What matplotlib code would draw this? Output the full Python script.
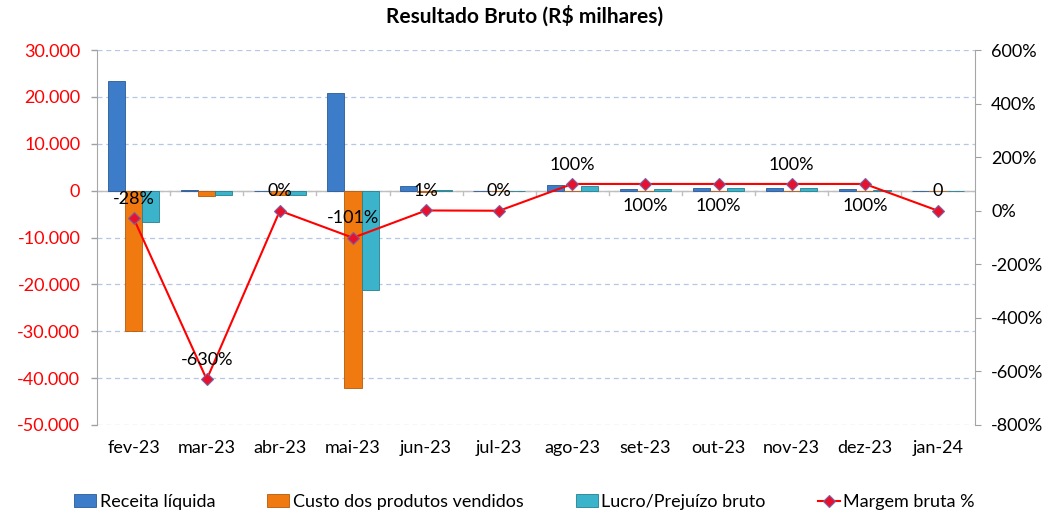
import matplotlib

matplotlib.use("Agg")
import matplotlib.pyplot as plt
import numpy as np
from matplotlib.ticker import FuncFormatter, MultipleLocator

plt.rcParams["font.family"] = ["Lato", "DejaVu Sans"]

meses = ["fev-23", "mar-23", "abr-23", "mai-23", "jun-23", "jul-23",
         "ago-23", "set-23", "out-23", "nov-23", "dez-23", "jan-24"]
receita = [23400, 150, 0, 20750, 1000, 0, 1200, 300, 500, 600, 300, 0]
custo = [-29900, -1100, -1000, -42100, -300, 0, 0, 0, 0, 0, 0, 0]
lucro = [-6600, -950, -1000, -21200, 100, 0, 1000, 300, 500, 600, 200, 0]
margem = [-28, -630, 0, -101, 1, 0, 100, 100, 100, 100, 100, 0]
margem_txt = ["-28%", "-630%", "0%", "-101%", "1%", "0%",
              "100%", "100%", "100%", "100%", "100%", "0"]
label_abaixo = [False, False, False, False, False, False,
                False, True, True, False, True, False]

x = np.arange(len(meses))
w = 0.235

fig = plt.figure(figsize=(10.49, 5.16), dpi=100)
ax = fig.add_axes([0.0925, 0.1764, 0.8365, 0.7266])

ax.bar(x - w, receita, w, color="#3D7CC9", edgecolor="#2A5A96", linewidth=0.6,
       label="Receita líquida", zorder=3)
ax.bar(x, custo, w, color="#F07A10", edgecolor="#B35A0A", linewidth=0.6,
       label="Custo dos produtos vendidos", zorder=3)
ax.bar(x + w, lucro, w, color="#3BB3CB", edgecolor="#24808F", linewidth=0.6,
       label="Lucro/Prejuízo bruto", zorder=3)

ax.set_xlim(-0.5, len(meses) - 0.5)
ax.set_ylim(-50000, 30000)
ax.yaxis.set_major_locator(MultipleLocator(10000))
ax.yaxis.set_major_formatter(FuncFormatter(lambda v, p: f"{v:,.0f}".replace(",", ".")))
ax.grid(True, axis="y", color="#B4C7E7", linestyle=(0, (4, 3)), linewidth=0.9, zorder=0)
ax.tick_params(axis="y", colors="red", labelsize=13, length=4, width=1, pad=8)
ax.tick_params(axis="y", color="#A0A0A0")
ax.set_xticks(x)
ax.set_xticklabels(meses, fontsize=13)
ax.tick_params(axis="x", length=0, pad=11)
# eixo x no zero com marcas entre categorias
ax.axhline(0, color="#BFBFBF", linewidth=1, zorder=2)
for xi in np.arange(0.5, len(meses) - 0.5, 1):
    ax.plot([xi, xi], [0, -900], color="#BFBFBF", linewidth=1, zorder=2)
for s in ["top", "bottom", "right"]:
    ax.spines[s].set_visible(False)
ax.spines["left"].set_color("#A6A6A6")

ax2 = ax.twinx()
ax2.plot(x, margem, color="red", linewidth=1.5, marker="D", markersize=6,
         markerfacecolor="#E8112D", markeredgecolor="#7F5FA0", markeredgewidth=0.8,
         label="Margem bruta %", zorder=5)
ax2.set_ylim(-800, 600)
ax2.yaxis.set_major_locator(MultipleLocator(200))
ax2.yaxis.set_major_formatter(FuncFormatter(lambda v, p: f"{v:.0f}%"))
ax2.tick_params(axis="y", labelsize=13, length=4, color="#A0A0A0", pad=8)
for s in ["top", "bottom", "left"]:
    ax2.spines[s].set_visible(False)
ax2.spines["right"].set_color("#A6A6A6")

for xi, m, t, baixo in zip(x, margem, margem_txt, label_abaixo):
    dy = -16 if baixo else 14
    ax2.annotate(t, (xi, m), xytext=(0, dy), textcoords="offset points",
                 ha="center", va="center", fontsize=13, color="black", zorder=6)

fig.suptitle("Resultado Bruto (R$ milhares)", fontsize=15, fontweight="bold", y=0.99)

h1, l1 = ax.get_legend_handles_labels()
h2, l2 = ax2.get_legend_handles_labels()
fig.legend(h1 + h2, l1 + l2, loc="lower center", ncol=4, frameon=False,
           fontsize=13, bbox_to_anchor=(0.5, -0.02), handlelength=1.2,
           handletextpad=0.2, columnspacing=2.9)

fig.savefig("out.png", dpi=100)
